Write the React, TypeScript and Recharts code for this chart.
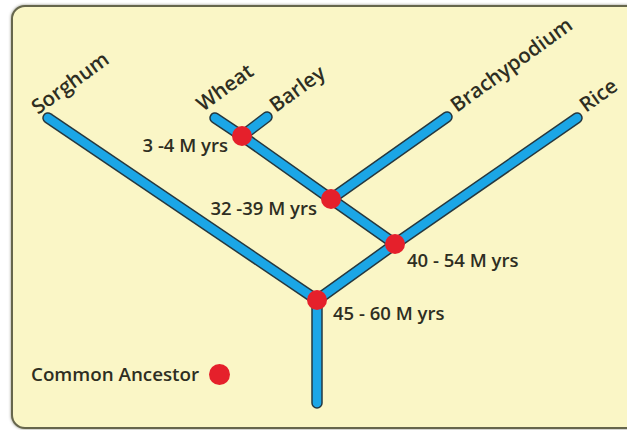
import React from 'react';
import { ComposedChart, XAxis, YAxis, Line, Scatter, Legend } from 'recharts';

// Tree layout (layout units)
const nodeIds = ['root', 'n40', 'n32', 'n3'];
const nodeX = [317, 395, 331, 242];
const nodeY = [300, 244, 199, 136];
const nodeLabels = ['45 - 60 M yrs', '40 - 54 M yrs', '32 -39 M yrs', '3 -4 M yrs'];

const taxa = ['Sorghum', 'Wheat', 'Barley', 'Brachypodium', 'Rice'];
const taxonX = [48, 215, 267, 447, 577];
const taxonY = [118, 118, 117, 117, 118];

const baseIds = ['base'];
const baseX = [317];
const baseY = [403];

const branchFrom = ['root', 'root', 'root', 'n40', 'n40', 'n32', 'n32', 'n3', 'n3'];
const branchTo = ['base', 'Sorghum', 'n40', 'Rice', 'n32', 'Brachypodium', 'n3', 'Wheat', 'Barley'];

const legendLabel = 'Common Ancestor';

// Build lookup tables
const pos: Record<string, { x: number; y: number }> = {};
nodeIds.forEach((id, i) => (pos[id] = { x: nodeX[i], y: nodeY[i] }));
taxa.forEach((id, i) => (pos[id] = { x: taxonX[i], y: taxonY[i] }));
baseIds.forEach((id, i) => (pos[id] = { x: baseX[i], y: baseY[i] }));

const segments = branchFrom.map((f, i) => [
  { x: pos[f].x, y: pos[f].y },
  { x: pos[branchTo[i]].x, y: pos[branchTo[i]].y },
]);

const nodeData = nodeIds.map((id, i) => ({ id, x: nodeX[i], y: nodeY[i], label: nodeLabels[i] }));
const taxonData = taxa.map((name, i) => ({ name, x: taxonX[i], y: taxonY[i] }));

// Styles
const BLUE = '#1ba6e6';
const OUTLINE = '#26383f';
const RED = '#e5202b';
const TEXT = '#2e2e22';
const FONT = '"Open Sans", sans-serif';

const nodeLabelStyle: Record<string, { dx: number; dy: number; anchor: 'start' | 'end' }> = {
  root: { dx: 16, dy: 20, anchor: 'start' },
  n40: { dx: 12, dy: 23, anchor: 'start' },
  n32: { dx: -14, dy: 16, anchor: 'end' },
  n3: { dx: -14, dy: 16, anchor: 'end' },
};
const taxonLabelStyle: Record<string, { dx: number; dy: number }> = {
  Sorghum: { dx: -10, dy: -3 },
  Wheat: { dx: -12, dy: -6 },
  Barley: { dx: 9, dy: -4 },
  Brachypodium: { dx: 10, dy: -4 },
  Rice: { dx: 9, dy: -5 },
};

const NodeShape = (props: any) => {
  const { cx, cy, payload } = props;
  const s = nodeLabelStyle[payload.id];
  return (
    <g>
      <circle cx={cx} cy={cy} r={10} fill={RED} />
      <text
        x={cx + s.dx}
        y={cy + s.dy}
        textAnchor={s.anchor}
        fontFamily={FONT}
        fontWeight={600}
        fontSize={18.5}
        fill={TEXT}
      >
        {payload.label}
      </text>
    </g>
  );
};

const TaxonShape = (props: any) => {
  const { cx, cy, payload } = props;
  const s = taxonLabelStyle[payload.name];
  const x = cx + s.dx;
  const y = cy + s.dy;
  return (
    <text
      x={x}
      y={y}
      transform={`rotate(-36 ${x} ${y})`}
      fontFamily={FONT}
      fontWeight={600}
      fontSize={20.5}
      fill={TEXT}
    >
      {payload.name}
    </text>
  );
};

const LegendContent = () => (
  <div style={{ display: 'flex', alignItems: 'center', fontFamily: FONT, fontWeight: 600, fontSize: 18.8, color: TEXT, lineHeight: '24px' }}>
    <span>{legendLabel}</span>
    <span style={{ display: 'inline-block', width: 21, height: 21, borderRadius: '50%', background: RED, marginLeft: 10 }} />
  </div>
);

export default function App() {
  return (
    <div style={{ position: 'absolute', left: 0, top: 0, width: 627, height: 430, background: '#ffffff', overflow: 'hidden' }}>
      <div
        style={{
          position: 'absolute',
          left: 11,
          top: 5,
          width: 640,
          height: 420,
          background: '#faf6c6',
          border: '2px solid #66664c',
          borderRadius: 14,
          boxShadow: '0 0 3px rgba(60,60,40,0.6)',
        }}
      />
      <div style={{ position: 'absolute', left: 0, top: 0 }}>
        <ComposedChart width={627} height={430} margin={{ top: 0, right: 0, bottom: 0, left: 0 }}>
          <XAxis type="number" dataKey="x" domain={[0, 627]} allowDataOverflow hide />
          <YAxis type="number" dataKey="y" domain={[0, 430]} reversed allowDataOverflow hide />
          <Legend
            layout="horizontal"
            verticalAlign="middle"
            align="center"
            content={<LegendContent />}
            wrapperStyle={{ position: 'absolute', left: 31, top: 362, width: 'auto' }}
          />
          {segments.map((seg, i) => (
            <Line
              key={`o${i}`}
              data={seg}
              dataKey="y"
              type="linear"
              stroke={OUTLINE}
              strokeWidth={11.5}
              strokeLinecap="round"
              dot={false}
              activeDot={false}
              isAnimationActive={false}
              legendType="none"
            />
          ))}
          {segments.map((seg, i) => (
            <Line
              key={`b${i}`}
              data={seg}
              dataKey="y"
              type="linear"
              stroke={BLUE}
              strokeWidth={8.5}
              strokeLinecap="round"
              dot={false}
              activeDot={false}
              isAnimationActive={false}
              legendType="none"
            />
          ))}
          <Scatter data={nodeData} dataKey="y" shape={<NodeShape />} isAnimationActive={false} legendType="none" />
          <Scatter data={taxonData} dataKey="y" shape={<TaxonShape />} isAnimationActive={false} legendType="none" />
        </ComposedChart>
      </div>
    </div>
  );
}
